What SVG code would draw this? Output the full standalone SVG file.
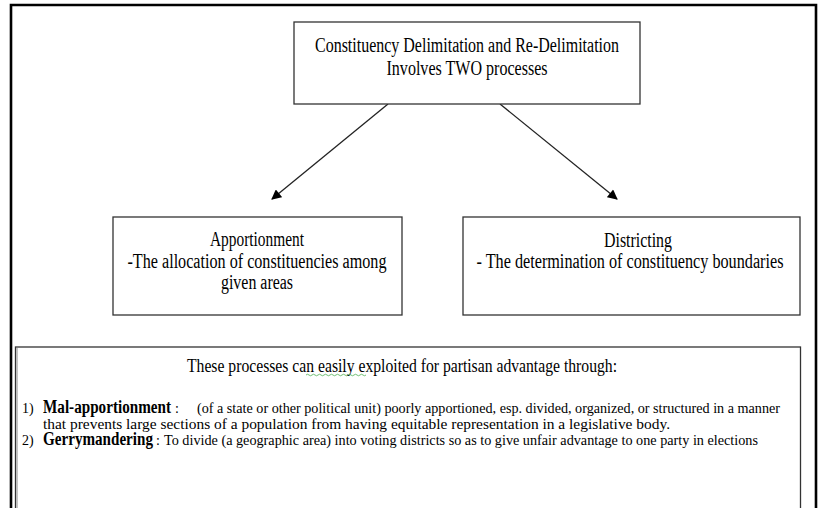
<svg xmlns="http://www.w3.org/2000/svg" width="821" height="508" viewBox="0 0 821 508">
<style>
  .box { fill: #ffffff; stroke: #333333; stroke-width: 1.3; }
  .t { font-family: "Liberation Serif", "Times New Roman", serif; fill: #000000; }
  .m { font-size: 20px; text-anchor: middle; }
  .s { font-size: 14px; }
  .b { font-size: 18px; font-weight: bold; }
  .edge { stroke: #222222; stroke-width: 1.3; fill: none; }
</style>
<defs>
  <marker id="arr" viewBox="0 0 10 10" refX="9" refY="5" markerWidth="11" markerHeight="10" markerUnits="userSpaceOnUse" orient="auto">
    <path d="M0,0 L10,5 L0,10 Z" fill="#000000"/>
  </marker>
</defs>
<rect x="0" y="0" width="821" height="508" fill="#ffffff"/>
<path d="M11,508 V5 H816 V508" fill="none" stroke="#000000" stroke-width="2.6"/>

<g id="connectors">
  <line class="edge" x1="388" y1="104" x2="272" y2="199" marker-end="url(#arr)"/>
  <line class="edge" x1="500" y1="104" x2="617" y2="199" marker-end="url(#arr)"/>
</g>

<g id="node-top">
  <rect class="box" x="294" y="22" width="346" height="82"/>
  <text class="t m" x="467" y="52" textLength="304" lengthAdjust="spacingAndGlyphs">Constituency Delimitation and Re-Delimitation</text>
  <text class="t m" x="467" y="75" textLength="161" lengthAdjust="spacingAndGlyphs">Involves TWO processes</text>
</g>

<g id="node-apportionment">
  <rect class="box" x="113" y="217" width="289" height="98"/>
  <text class="t m" x="257" y="246" textLength="94" lengthAdjust="spacingAndGlyphs">Apportionment</text>
  <text class="t m" x="257" y="268" textLength="259" lengthAdjust="spacingAndGlyphs">-The allocation of constituencies among</text>
  <text class="t m" x="257" y="289" textLength="72" lengthAdjust="spacingAndGlyphs">given areas</text>
</g>

<g id="node-districting">
  <rect class="box" x="463" y="217" width="337" height="98"/>
  <text class="t m" x="638" y="247" textLength="68" lengthAdjust="spacingAndGlyphs">Districting</text>
  <text class="t m" x="630" y="268" textLength="307" lengthAdjust="spacingAndGlyphs">- The determination of constituency boundaries</text>
</g>

<g id="node-bottom">
  <rect class="box" x="15.5" y="347" width="785" height="175"/>
  <line x1="17" y1="348" x2="17" y2="508" stroke="#b0b0b0" stroke-width="1.5"/>
  <text class="t" x="187" y="372" font-size="19" textLength="430" lengthAdjust="spacingAndGlyphs">These processes can easily exploited for partisan advantage through:</text>
  <path d="M306,375 q1.5,-1.5 3,0 t3,0 t3,0 t3,0 t3,0 t3,0 t3,0 t3,0 t3,0 t3,0 t3,0 t3,0 t3,0 t3,0 t3,0 t3,0 t3,0 t3,0 t3,0 t3,0" fill="none" stroke="#4caf50" stroke-width="0.8"/>
  <text class="t s" x="22" y="413">1)</text>
  <text class="t b" x="43" y="413" textLength="128" lengthAdjust="spacingAndGlyphs">Mal-apportionment</text>
  <text class="t s" x="175" y="413">:</text>
  <text class="t s" x="197" y="413" textLength="583" lengthAdjust="spacingAndGlyphs">(of a state or other political unit) poorly apportioned, esp. divided, organized, or structured in a manner</text>
  <text class="t s" x="43" y="429" textLength="627" lengthAdjust="spacingAndGlyphs">that prevents large sections of a population from having equitable representation in a legislative body.</text>
  <text class="t s" x="22" y="445">2)</text>
  <text class="t b" x="43" y="445" textLength="110" lengthAdjust="spacingAndGlyphs">Gerrymandering</text>
  <text class="t s" x="156" y="445">:</text>
  <text class="t s" x="164" y="445" textLength="594" lengthAdjust="spacingAndGlyphs">To divide (a geographic area) into voting districts so as to give unfair advantage to one party in elections</text>
</g>
</svg>
